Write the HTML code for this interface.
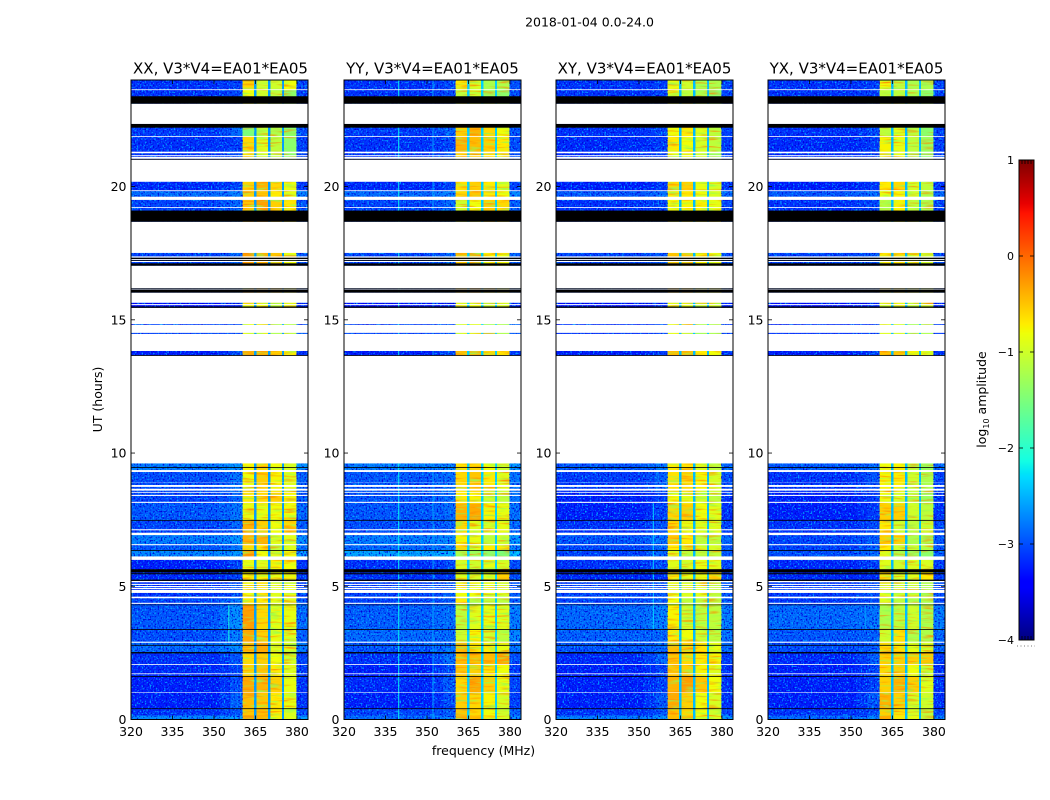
<!DOCTYPE html>
<html lang="en">
<head>
<meta charset="utf-8">
<title>2018-01-04 0.0-24.0</title>
<style>
html,body{margin:0;padding:0;background:#fff;}
svg{display:block;font-family:"DejaVu Sans","Liberation Sans",sans-serif;fill:#000;}
</style>
</head>
<body>
<svg id="chart" xmlns="http://www.w3.org/2000/svg" width="1050" height="800" viewBox="0 0 1050 800">
  <defs>
    <filter id="speckleLight" x="0" y="0" width="1" height="1" color-interpolation-filters="sRGB">
      <feTurbulence type="fractalNoise" baseFrequency="0.62" numOctaves="1" seed="4"/>
      <feColorMatrix type="matrix" values="0 0 0 0 0  0 0 0 0 0.66  0 0 0 0 1  5 0 0 0 -2.6"/>
    </filter>
    <filter id="speckleDark" x="0" y="0" width="1" height="1" color-interpolation-filters="sRGB">
      <feTurbulence type="fractalNoise" baseFrequency="0.62" numOctaves="1" seed="17"/>
      <feColorMatrix type="matrix" values="0 0 0 0 0  0 0 0 0 0  0 0 0 0 0.85  4.5 0 0 0 -2.3"/>
    </filter>
    <filter id="blockWarm" x="0" y="0" width="1" height="1" color-interpolation-filters="sRGB">
      <feTurbulence type="fractalNoise" baseFrequency="0.05 0.45" numOctaves="2" seed="8"/>
      <feColorMatrix type="matrix" values="0 0 0 0 1  0 0 0 0 0.52  0 0 0 0 0  2.6 0 0 0 -1.35"/>
    </filter>
    <filter id="blockCool" x="0" y="0" width="1" height="1" color-interpolation-filters="sRGB">
      <feTurbulence type="fractalNoise" baseFrequency="0.06 0.4" numOctaves="2" seed="23"/>
      <feColorMatrix type="matrix" values="0 0 0 0 0.55  0 0 0 0 1  0 0 0 0 0.35  2.6 0 0 0 -1.4"/>
    </filter>
  </defs>
  <text x="589.5" y="26.5" font-size="12.5" text-anchor="middle">2018-01-04 0.0-24.0</text>
  <text x="483.5" y="755" font-size="12.5" text-anchor="middle">frequency (MHz)</text>
  <text x="0" y="0" font-size="12.5" text-anchor="middle" transform="translate(102 399.5) rotate(-90)">UT (hours)</text>
  <g id="panels"></g>
  <g id="colorbar"></g>
  <text x="0" y="0" font-size="12.5" text-anchor="middle" transform="translate(986 399.5) rotate(-90)">log<tspan font-size="8" dy="3">10</tspan><tspan dy="-3"> amplitude</tspan></text>
</svg>
<script>
// ---- shared axes data ----
const panelTitles = ["XX, V3*V4=EA01*EA05", "YY, V3*V4=EA01*EA05", "XY, V3*V4=EA01*EA05", "YX, V3*V4=EA01*EA05"];
const xTickValues = [320, 335, 350, 365, 380];
const yTickValues = [0, 5, 10, 15, 20];
const colorbarTicks = [1, 0, -1, -2, -3, -4];
const colorbarTickLabels = ["1", "0", "\u22121", "\u22122", "\u22123", "\u22124"];

// Frequency columns (MHz edges). Each column reads a level from its row.
const freqEdges = [320, 352, 356, 360.4, 364.5, 365.4, 369.5, 370.4, 374.6, 375.4, 379.8, 384];

// Time bands (hours) for the level matrices.
const timeEdges = [0, .15, .42, 1.0, 1.6, 2.05, 2.5, 2.9, 3.4, 4.3, 4.6, 5.2, 5.65, 6.0, 6.35, 6.55, 6.95, 7.45, 8.1, 8.55, 9.3, 9.62, 13.83, 14.84, 15.64, 17.51, 19.5, 19.85, 20.18, 21.31, 21.9, 22.35, 23.62, 24];

// log10 amplitude per band: [background, near-band, block1, block2, block3, block4]
const levelsXX = [
[-2.7,-2.5,-.35,-.4,-.75,-.9],[-3.15,-2.85,-.5,-.45,-.7,-.9],[-3.25,-2.65,-.45,-.5,-.7,-.85],[-3.25,-2.85,-.35,-.4,-.55,-.85],
[-3.2,-2.95,-.55,-.5,-.7,-.9],[-3.15,-2.85,-.6,-.55,-.8,-.95],[-2.85,-2.55,-.45,-.35,-.9,-.9],[-3,-2.55,-.35,-.55,-.85,-.9],
[-2.95,-2.45,-.3,-.6,-.85,-.85],[-3.05,-2.65,-.7,-.7,-.85,-.9],[-3.15,-2.85,-.8,-.65,-.9,-.85],[-3.2,-2.95,-.75,-.75,-.85,-.75],
[-3.25,-2.95,-.85,-.9,-.75,-.8],[-2.7,-2.55,-.35,-.8,-.9,-.8],[-2.95,-2.65,-.6,-.7,-1.1,-.9],[-2.75,-2.55,-.4,-.4,-.9,-.9],
[-3.05,-2.75,-.4,-.55,-.8,-.6],[-2.95,-2.65,-.85,-.85,-.8,-.8],[-3.05,-2.75,-.7,-.6,-.55,-.75],[-3,-2.65,-.8,-.55,-.75,-.9],
[-2.75,-2.55,-.75,-.6,-.8,-.95],[-3.25,-2.85,-.35,-.4,-.55,-.7],[-3.05,-2.95,-.85,-.85,-1.2,-1.1],[-3.35,-3.15,-.8,-.8,-1,-.9],
[-3.05,-2.75,-.3,-.4,-.5,-.8],[-3.05,-2.75,-.5,-.3,-.55,-.7],[-2.85,-2.65,-.55,-.5,-.7,-.85],[-3.2,-2.95,-.55,-.4,-.6,-.85],
[-3.15,-2.95,-.8,-.9,-1.1,-1.4],[-3.15,-3.05,-.6,-.9,-1.1,-1.4],[-3.1,-2.65,-1.5,-1.1,-1.2,-1.4],[-3.15,-2.95,-.8,-1,-1.1,-1.4],[-3.15,-3,-.6,-1,-1,-.8]
];
const levelsYY = [
[-2.85,-2.65,-.35,-.45,-.7,-.95],[-3.05,-2.85,-.5,-.6,-.8,-1],[-3.25,-2.85,-.55,-.6,-.75,-.95],[-3.2,-2.75,-.6,-.35,-.55,-.85],
[-3.25,-2.85,-.5,-.55,-.7,-.8],[-3.15,-2.55,-.45,-.45,-.45,-.35],[-2.95,-2.65,-.45,-.7,-.7,-.85],[-2.85,-2.85,-1,-.75,-1,-1.1],
[-2.9,-2.75,-1.1,-.9,-.85,-.9],[-3.05,-2.85,-.7,-1.1,-1.1,-1.1],[-3.05,-2.85,-.8,-.8,-.85,-.95],[-3.15,-3.05,-.85,-.95,-.85,-.55],
[-3.15,-2.95,-.95,-1,-.85,-.95],[-2.55,-2.45,-1.2,-1.3,-1.4,-1.5],[-2.85,-2.65,-.6,-.85,-.7,-.7],[-2.75,-2.65,-.75,-.85,-1.1,-1],
[-3,-2.8,-.6,-.9,-.95,-.85],[-2.95,-2.75,-.4,-.35,-.75,-.85],[-2.95,-2.75,-.7,-.75,-1,-1.1],[-2.95,-2.75,-.6,-.5,-.7,-.9],
[-2.75,-2.65,-.65,-.6,-.8,-1],[-3.25,-2.85,-.45,-.4,-.6,-.65],[-3.05,-2.95,-.9,-.9,-1.25,-1.2],[-3.35,-3.15,-.85,-.8,-1,-.95],
[-3.05,-2.75,-.5,-.35,-.75,-.8],[-3.05,-2.75,-1,-.8,-.55,-.6],[-2.85,-2.65,-.6,-.5,-.7,-.8],[-3.2,-2.95,-.65,-.55,-.7,-.9],
[-3.15,-2.85,-.6,-.55,-.7,-.85],[-3.15,-2.95,-.4,-.45,-.55,-.7],[-3.1,-2.75,-.55,-.4,-.6,-.8],[-3.15,-2.95,-1.1,-1,-1.3,-1.4],[-3.15,-2.95,-.7,-.95,-1.2,-1.2]
];
const levelsXY = [
[-2.75,-2.55,-.45,-.45,-.85,-.95],[-3.15,-2.85,-.5,-.6,-.8,-1],[-3.25,-2.75,-.35,-.55,-.8,-.95],[-3.25,-2.95,-.4,-.3,-.5,-.8],
[-3.25,-2.95,-.5,-.55,-.75,-.9],[-3.2,-2.65,-.5,-.6,-.7,-.75],[-2.95,-2.75,-.45,-.55,-.65,-.85],[-2.9,-2.85,-.7,-.8,-1,-1.1],
[-2.85,-2.65,-.75,-1,-1.1,-1.1],[-3.05,-2.85,-.8,-1.1,-1.1,-1.1],[-3.05,-2.85,-.85,-.9,-.9,-1.1],[-3.2,-3.15,-.7,-.85,-.85,-.65],
[-3.15,-2.95,-.9,-.95,-.85,-.9],[-3.05,-2.75,-.9,-1.1,-1.1,-1.1],[-3.05,-2.75,-.7,-.9,-.9,-.95],[-2.95,-2.75,-.5,-.7,-1.1,-1.1],
[-3.15,-2.85,-.6,-.85,-.9,-.9],[-3.25,-2.95,-.6,-.55,-.8,-.9],[-3.25,-2.95,-.8,-.85,-1,-1.1],[-3.1,-2.75,-.65,-.6,-.75,-.95],
[-2.95,-2.65,-.7,-.65,-.9,-1.1],[-3.25,-2.95,-.45,-.45,-.7,-.8],[-3.15,-3,-.85,-.9,-1.2,-1.2],[-3.35,-3.15,-.85,-.85,-1,-1],
[-3.05,-2.85,-.5,-.5,-.75,-.85],[-3.15,-2.95,-.8,-.75,-.75,-.85],[-2.95,-2.75,-.7,-.7,-.8,-.95],[-3.25,-3.05,-.6,-.55,-.85,-.95],
[-3.2,-3.05,-.8,-.85,-1,-1.3],[-3.2,-3.05,-.7,-.8,-.95,-1.1],[-3.15,-2.95,-.8,-.7,-.9,-1.1],[-3.15,-3.05,-.9,-1.1,-1.2,-1.4],[-3.15,-3.05,-.85,-1,-1.2,-1.2]
];
const levelsYX = [
[-2.85,-2.65,-.35,-.7,-.85,-1.1],[-3.15,-2.95,-.55,-.65,-.95,-1.1],[-3.25,-2.75,-.4,-.55,-.95,-1],[-3.25,-2.95,-.55,-.4,-.55,-.9],
[-3.25,-2.95,-.6,-.55,-.8,-.95],[-3.2,-2.75,-.55,-.55,-.55,-.5],[-3,-2.85,-.6,-.65,-.85,-.95],[-2.95,-2.85,-1,-.65,-1.2,-1.2],
[-2.85,-2.75,-1.2,-1.1,-1,-1.2],[-3.1,-2.95,-.9,-1.1,-1.2,-1.2],[-3.1,-2.95,-.9,-1,-1,-1.2],[-3.2,-3.15,-.65,-.95,-.9,-.7],
[-3.2,-3,-.9,-1,-.95,-.95],[-3,-2.75,-.9,-1.2,-1.3,-1.4],[-3.05,-2.85,-.7,-1,-1,-1.1],[-3.05,-2.85,-.55,-.55,-1.2,-1.2],
[-3.15,-2.95,-.7,-1,-1.1,-1],[-3.25,-3,-.55,-.55,-1,-1.1],[-3.25,-3,-.8,-.95,-1.1,-1.3],[-3.15,-2.85,-.75,-.7,-1,-1.2],
[-2.95,-2.75,-.8,-.75,-1.1,-1.3],[-3.25,-2.95,-.5,-.5,-.75,-.9],[-3.15,-3,-.9,-.95,-1.25,-1.2],[-3.35,-3.15,-.9,-.85,-1.05,-1],
[-3.05,-2.85,-.7,-.65,-.85,-1],[-3.15,-2.95,-1.15,-.75,-1.1,-1.2],[-2.95,-2.75,-.85,-.75,-1,-1.2],[-3.25,-3.05,-.7,-.6,-.95,-1.1],
[-3.2,-3.05,-.9,-.85,-1.2,-1.4],[-3.2,-3.05,-.75,-.85,-1.1,-1.3],[-3.15,-2.95,-1.1,-.9,-1.1,-1.4],[-3.15,-3.05,-1.1,-1.1,-1.2,-1.4],[-3.15,-3.05,-.8,-1.1,-1.2,-1.2]
];
const panelLevels = [levelsXX, levelsYY, levelsXY, levelsYX];
const notchLevels = [-2.6, -2.35, -2.45, -2.45];
const rightEdgeOffsets = [0, 0.05, 0, 0];

// Narrow interference lines per panel: [freq MHz, start h, end h, log10 amp]
const rfiXX = [[355.2, 2.9, 4.3, -2.1]];
const rfiYY = [[339.6, 0, 24, -2.2], [352, 0, 24, -2.6]];
const rfiXY = [[355, 3.4, 8.1, -2.3]];
const rfiYX = [[355, 3.4, 4.3, -2.6]];
const panelRfi = [rfiXX, rfiYY, rfiXY, rfiYX];

// Time spans without data, shared by all panels (hours).
const whiteRows = [[23.65,23.62],[23.11,22.35],[21.89,21.86],[21.31,21.25],[21.18,21.15],[21.12,21.04],[21.01,20.18],[19.86,19.83],[19.62,19.5],[19.23,19.2],[18.68,17.51],[17.38,17.33],[17.28,17.24],[17.21,17.17],[17.03,16.18],[16.14,16.12],[16.02,15.64],[15.59,15.55],[15.45,14.84],[14.81,14.51],[14.47,13.83],[13.65,9.61],[9.36,9.29],[8.89,8.88],[8.8,8.73],[8.66,8.59],[8.54,8.51],[8.43,8.39],[8.17,8.13],[7.14,7.1],[7.01,6.92],[6.58,6.54],[6.12,5.99],[5.2,5.15],[5.09,5.05],[5.01,4.97],[4.94,4.89],[4.86,4.75],[4.61,4.55],[4.38,4.34],[2.92,2.88],[2.08,2.05],[1.73,1.7],[1.03,1.01]];
const blackRows = [[23.39,23.11],[22.35,22.21],[21.04,21.01],[19.1,18.68],[17.33,17.28],[17.24,17.21],[17.12,17.03],[16.18,16.14],[16.12,16.02],[15.5,15.45],[13.68,13.65],[9.47,9.44],[7.49,7.46],[6.36,6.33],[5.64,5.52],[5.49,5.45],[5.25,5.2],[4.31,4.29],[3.39,3.36],[2.8,2.77],[2.53,2.48],[1.63,1.6],[.42,.39]];

// ---- layout ----
const SVGNS = "http://www.w3.org/2000/svg";
const plotLefts = [131, 344, 556, 768];
const plotWidth = 177;
const plotTop = 80, plotBottom = 719.5;
const freqMin = 320, freqMax = 384, hourMin = 0, hourMax = 24;
const cbLeft = 1019, cbRight = 1034, cbTop = 160, cbBottom = 640, cbMin = -4, cbMax = 1;
const titleNudges = [1, 0, 0, 0];

function xScale(panelIndex, mhz) { return plotLefts[panelIndex] + (mhz - freqMin) / (freqMax - freqMin) * plotWidth; }
function yScale(hour) { return plotBottom - (hour - hourMin) / (hourMax - hourMin) * (plotBottom - plotTop); }
function cbScale(v) { return cbBottom - (v - cbMin) / (cbMax - cbMin) * (cbBottom - cbTop); }

function lerpAnchors(a, t) {
  for (let i = 1; i < a.length; i++) {
    if (t <= a[i][0]) {
      const f = (t - a[i - 1][0]) / (a[i][0] - a[i - 1][0]);
      return a[i - 1][1] + f * (a[i][1] - a[i - 1][1]);
    }
  }
  return a[a.length - 1][1];
}
const jetR = [[0, 0], [.35, 0], [.66, 1], [.89, 1], [1, .5]];
const jetG = [[0, 0], [.125, 0], [.375, 1], [.64, 1], [.91, 0], [1, 0]];
const jetB = [[0, .5], [.11, 1], [.34, 1], [.65, 0], [1, 0]];
function colorFor(v) {
  const t = Math.max(0, Math.min(1, (v - cbMin) / (cbMax - cbMin)));
  const c = x => Math.round(255 * lerpAnchors(x, t));
  return "rgb(" + c(jetR) + "," + c(jetG) + "," + c(jetB) + ")";
}
function make(tag, parent, attrs, text) {
  const el = document.createElementNS(SVGNS, tag);
  for (const k in attrs) el.setAttribute(k, attrs[k]);
  if (text !== undefined) el.textContent = text;
  parent.appendChild(el);
  return el;
}
function columnLevel(row, col, notch, offset) {
  if (col === 0) return row[0];
  if (col === 1) return row[0] + 0.25 * (row[1] - row[0]);
  if (col === 2) return row[0] + 0.6 * (row[1] - row[0]);
  if (col === 3) return row[2];
  if (col === 4) return notch;
  if (col === 5) return row[3];
  if (col === 6) return notch;
  if (col === 7) return row[4];
  if (col === 8) return notch;
  if (col === 9) return row[5];
  return row[0] + 0.1 + offset;
}

const panelsRoot = document.getElementById("panels");
panelTitles.forEach(function (title, p) {
  const left = plotLefts[p], right = left + plotWidth;
  const g = make("g", panelsRoot, {});
  
  

  const heat = make("g", g, { "shape-rendering": "crispEdges" });
  
  
  panelLevels[p].forEach(function (row, r) {
    const yTop = yScale(timeEdges[r + 1]), yBot = yScale(timeEdges[r]);
    for (let c = 0; c < freqEdges.length - 1; c++) {
      const x0 = xScale(p, freqEdges[c]), x1 = xScale(p, freqEdges[c + 1]);
      const cell = make("rect", heat, { x: x0, y: yTop, width: x1 - x0, height: yBot - yTop, fill: colorFor(columnLevel(row, c, notchLevels[p], rightEdgeOffsets[p])) });
      
      
    }
  });

  // fine speckle texture over the background columns
  const bgSpans = [[freqEdges[0], freqEdges[3]], [freqEdges[10], freqEdges[11]]];
  bgSpans.forEach(function (span) {
    ["speckleLight", "speckleDark"].forEach(function (fid) {
      const n = make("rect", g, { x: xScale(p, span[0]), y: plotTop, width: xScale(p, span[1]) - xScale(p, span[0]), height: plotBottom - plotTop, filter: "url(#" + fid + ")" });
      
      
    });
  });
  // soft mottling inside the bright blocks
  const blockSpans = [[freqEdges[3], freqEdges[4]], [freqEdges[5], freqEdges[6]], [freqEdges[7], freqEdges[8]], [freqEdges[9], freqEdges[10]]];
  blockSpans.forEach(function (span) {
    ["blockWarm", "blockCool"].forEach(function (fid) {
      const n = make("rect", g, { x: xScale(p, span[0]), y: plotTop, width: xScale(p, span[1]) - xScale(p, span[0]), height: plotBottom - plotTop, filter: "url(#" + fid + ")" });
      
      
    });
  });

  panelRfi[p].forEach(function (line) {
    const l = make("rect", g, { x: xScale(p, line[0]), y: yScale(line[2]), width: 1, height: yScale(line[1]) - yScale(line[2]), fill: colorFor(line[3]) });
    
    
  });

  whiteRows.forEach(function (span) {
    const w = make("rect", g, { x: left, y: yScale(span[0]), width: plotWidth, height: yScale(span[1]) - yScale(span[0]), fill: "#fff" });
    
    
  });
  blackRows.forEach(function (span) {
    const b = make("rect", g, { x: left, y: yScale(span[0]), width: plotWidth, height: yScale(span[1]) - yScale(span[0]), fill: "#000" });
    
    
  });

  const frame = make("rect", g, { x: left, y: plotTop, width: plotWidth, height: plotBottom - plotTop, fill: "none", stroke: "#000", "stroke-width": 1 });
  
  

  xTickValues.forEach(function (v) {
    const x = xScale(p, v);
    const t1 = make("line", g, { x1: x, x2: x, y1: plotBottom, y2: plotBottom - 4, stroke: "#000", "stroke-width": 0.8 });
    
    
    const t2 = make("line", g, { x1: x, x2: x, y1: plotTop, y2: plotTop + 4, stroke: "#000", "stroke-width": 0.8 });
    
    
    const lab = make("text", g, { x: x, y: 736, "font-size": 12.5, "text-anchor": "middle" }, String(v));
    
    
  });
  yTickValues.forEach(function (v) {
    const y = yScale(v);
    const t1 = make("line", g, { x1: left, x2: left + 4, y1: y, y2: y, stroke: "#000", "stroke-width": 0.8 });
    
    
    const t2 = make("line", g, { x1: right, x2: right - 4, y1: y, y2: y, stroke: "#000", "stroke-width": 0.8 });
    
    
    const lab = make("text", g, { x: left - 4.5, y: y + 4.5, "font-size": 12.5, "text-anchor": "end" }, String(v));
    
    
  });

  const tt = make("text", g, { x: left + plotWidth / 2 + titleNudges[p], y: 73.5, "font-size": 15, "text-anchor": "middle" }, title);
  
  
});

// ---- colorbar ----
const cb = document.getElementById("colorbar");
const cbSteps = 240;
for (let i = 0; i < cbSteps; i++) {
  const v0 = cbMin + (cbMax - cbMin) * i / cbSteps, v1 = cbMin + (cbMax - cbMin) * (i + 1) / cbSteps;
  const s = make("rect", cb, { x: cbLeft, y: cbScale(v1), width: cbRight - cbLeft, height: cbScale(v0) - cbScale(v1) + 0.5, fill: colorFor((v0 + v1) / 2) });
  
  
}
const cbFrame = make("rect", cb, { x: cbLeft, y: cbTop, width: cbRight - cbLeft, height: cbBottom - cbTop, fill: "none", stroke: "#000", "stroke-width": 1 });


colorbarTicks.forEach(function (v, i) {
  const y = cbScale(v);
  if (v > cbMin && v < cbMax) {
    const a = make("line", cb, { x1: cbLeft, x2: cbLeft + 4, y1: y, y2: y, stroke: "#000", "stroke-width": 0.8 });
    
    
    const b = make("line", cb, { x1: cbRight, x2: cbRight - 4, y1: y, y2: y, stroke: "#000", "stroke-width": 0.8 });
    
    
  }
  const lab = make("text", cb, { x: 1014, y: y + 4, "font-size": 11, "text-anchor": "end" }, colorbarTickLabels[i]);
  
  
});
[1022, 1025, 1028, 1031].forEach(function (x) {
  const top = make("line", cb, { x1: x, x2: x, y1: cbTop, y2: cbTop + 4, stroke: "#000", "stroke-width": 0.8 });
  
  
  const bot = make("line", cb, { x1: x, x2: x, y1: cbBottom, y2: cbBottom - 4, stroke: "#000", "stroke-width": 0.8 });
  
  
});
const dots = make("line", cb, { x1: 1017, x2: 1035, y1: 646, y2: 646, stroke: "#777", "stroke-width": 1, "stroke-dasharray": "1 2.5" });


</script>
</body>
</html>
